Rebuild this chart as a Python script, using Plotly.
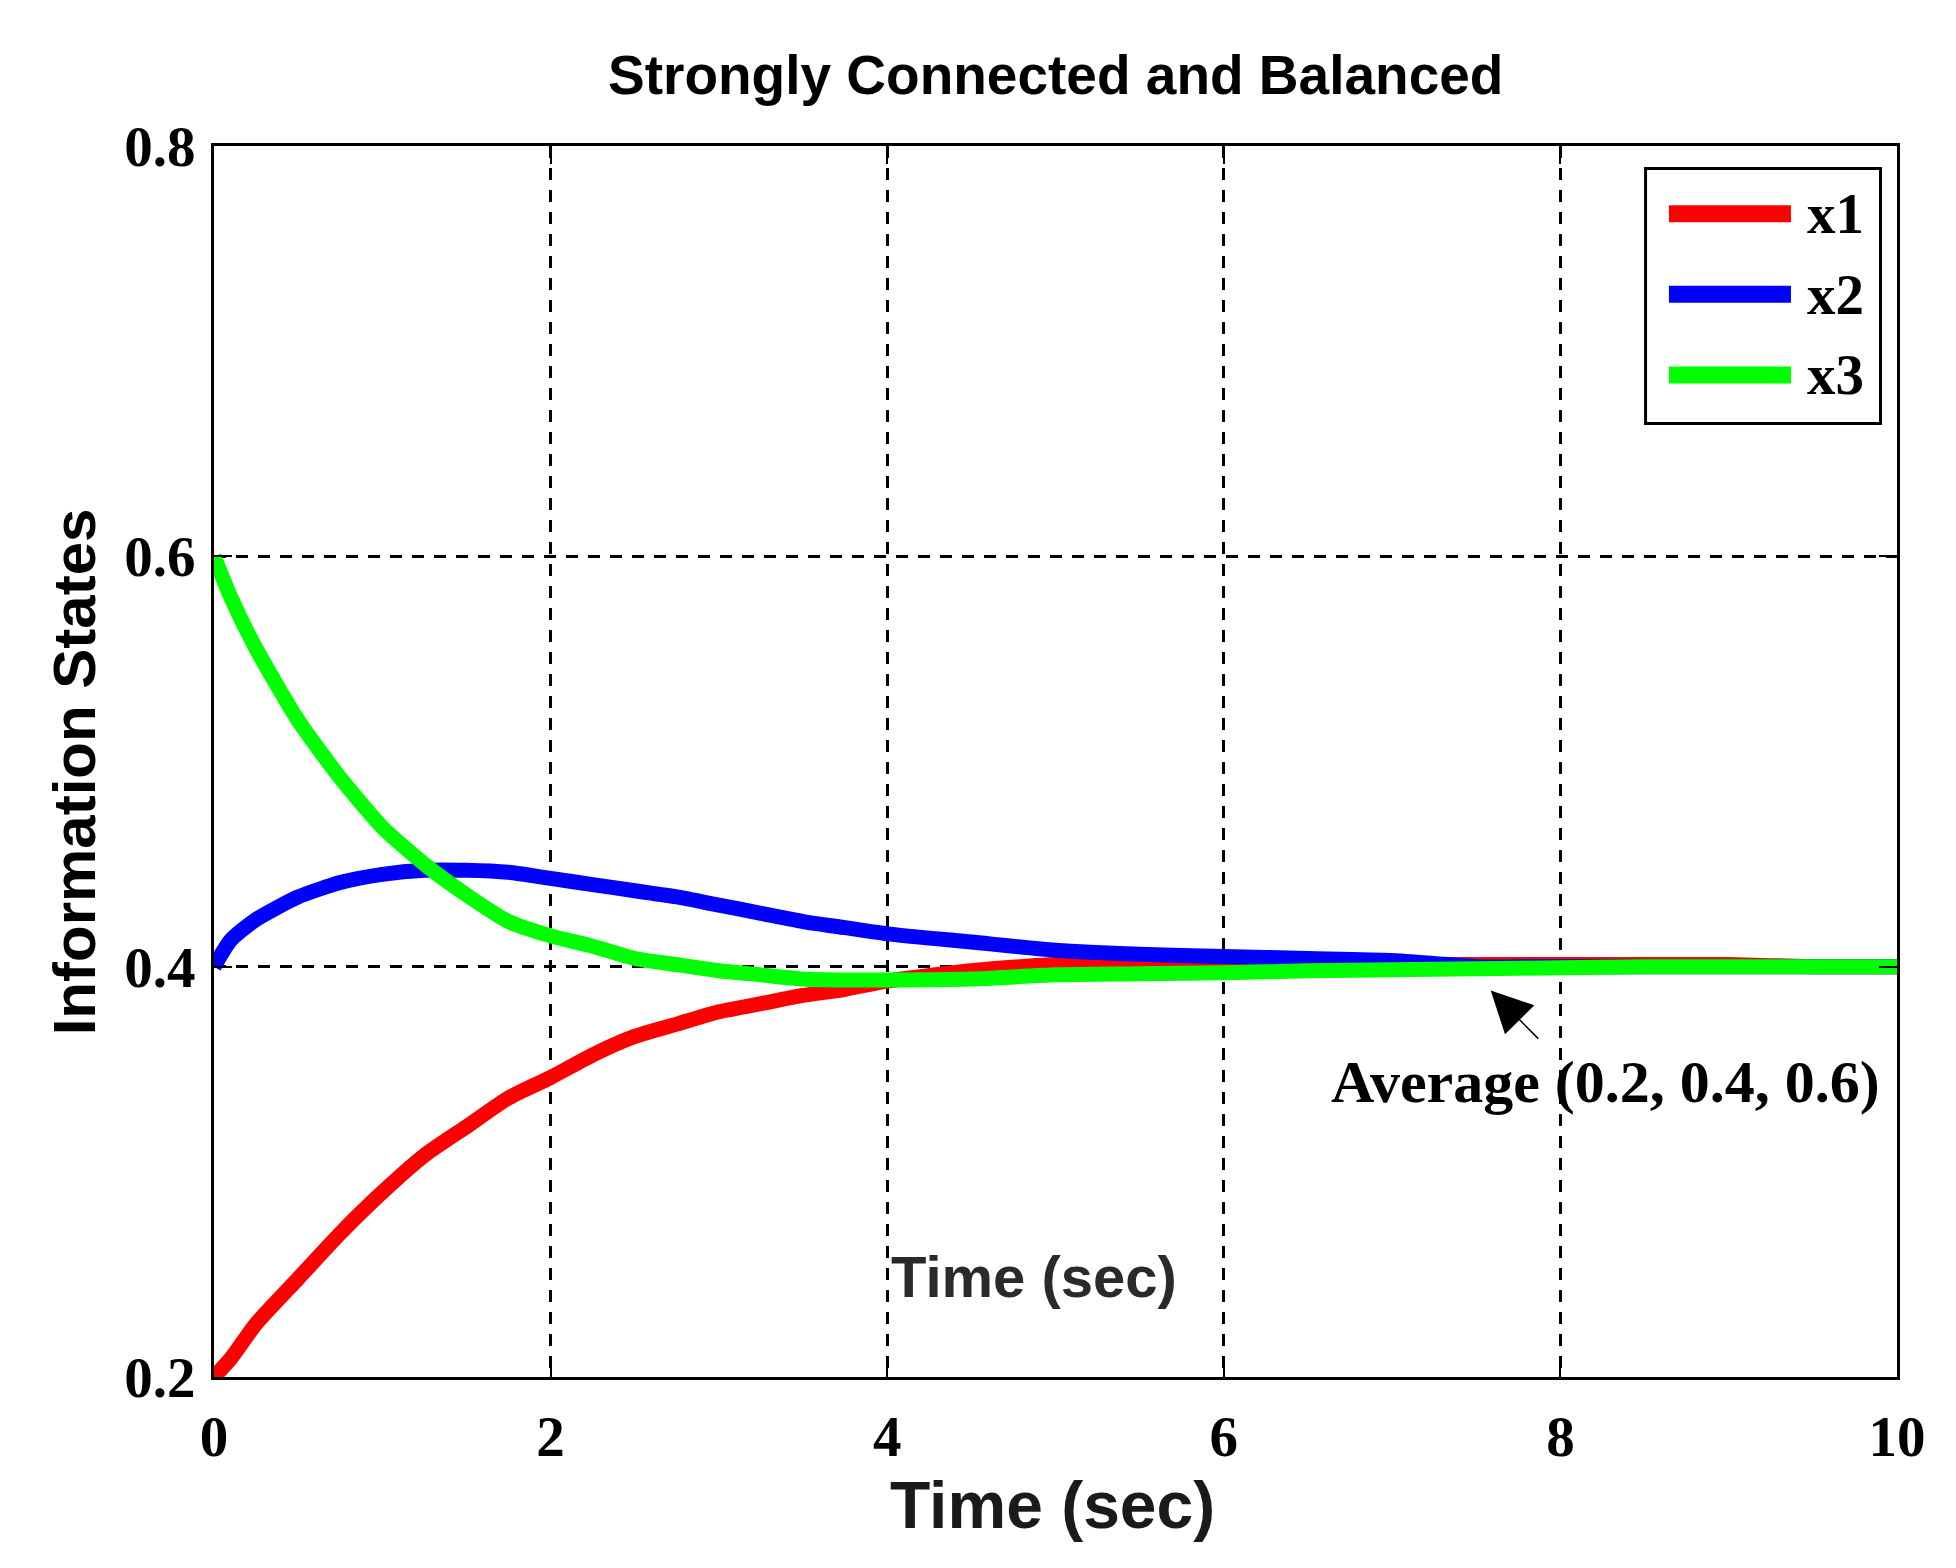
import plotly.graph_objects as go

# time samples (sec) and the three information states
t = [0, 0.1, 0.25, 0.5, 0.75, 1.0, 1.25, 1.5, 1.75, 2.0, 2.25, 2.5, 2.75, 3.0,
     3.25, 3.5, 3.75, 4.0, 4.5, 5.0, 5.5, 6.0, 6.5, 7.0, 7.5, 8.0, 8.5, 9.0, 9.5, 10]
x1 = [0.200, 0.209, 0.226, 0.248, 0.270, 0.290, 0.308, 0.322, 0.336, 0.346, 0.357,
      0.366, 0.372, 0.378, 0.382, 0.386, 0.389, 0.393, 0.398, 0.401, 0.402, 0.402,
      0.401, 0.401, 0.401, 0.401, 0.401, 0.401, 0.400, 0.400]
x2 = [0.400, 0.413, 0.423, 0.434, 0.441, 0.445, 0.447, 0.447, 0.446, 0.443, 0.440,
      0.437, 0.434, 0.430, 0.426, 0.422, 0.419, 0.416, 0.412, 0.408, 0.406, 0.405,
      0.404, 0.403, 0.400, 0.400, 0.400, 0.400, 0.400, 0.400]
x3 = [0.600, 0.580, 0.555, 0.520, 0.492, 0.468, 0.450, 0.435, 0.422, 0.415, 0.410,
      0.404, 0.401, 0.398, 0.396, 0.394, 0.3935, 0.3935, 0.394, 0.396, 0.3965, 0.397,
      0.398, 0.3985, 0.399, 0.3995, 0.400, 0.400, 0.400, 0.400]

names = ["x1", "x2", "x3"]
colors = ["#ff0000", "#0000ff", "#00ff00"]
xticks = [0, 2, 4, 6, 8, 10]
yticks = [0.2, 0.4, 0.6, 0.8]

serif = "Liberation Serif"
sans = "Liberation Sans"

fig = go.Figure()
for name, ys, c in zip(names, [x1, x2, x3], colors):
    fig.add_trace(go.Scatter(x=t, y=ys, mode="lines", name=name,
                             line=dict(color=c, width=15, shape="spline", smoothing=0.6),
                             showlegend=False))

axis_style = dict(
    showline=True, linecolor="black", linewidth=3, mirror="ticks",
    ticks="inside", ticklen=18, tickwidth=2, tickcolor="black",
    showgrid=True, gridcolor="black", gridwidth=2.5, griddash="12px,10px",
    zeroline=False,
    tickfont=dict(family=serif, size=57, color="black", weight="bold"),
)
fig.update_xaxes(range=[0, 10], tickvals=xticks, ticklabelstandoff=8, **axis_style)
fig.update_yaxes(range=[0.2, 0.8], tickvals=yticks, tickformat=".1f",
                 ticklabelstandoff=4, **axis_style)

# hand-made legend box (MATLAB style: long thick sample lines)
shapes = [dict(type="rect", xref="paper", yref="paper", x0=0.8506, x1=0.9902,
               y0=0.7746, y1=0.9817, line=dict(color="black", width=3),
               fillcolor="white", layer="above")]
annotations = []
leg_y = [0.945, 0.8795, 0.814]
for name, c, ly in zip(names, colors, leg_y):
    shapes.append(dict(type="line", xref="paper", yref="paper", x0=0.8645, x1=0.937,
                       y0=ly, y1=ly, line=dict(color=c, width=17), layer="above"))
    annotations.append(dict(text=name, xref="paper", yref="paper", x=0.9453, y=ly,
                            xanchor="left", yanchor="middle", showarrow=False,
                            font=dict(family=serif, size=57, color="black", weight="bold")))

annotations += [
    dict(text="Strongly Connected and Balanced", xref="paper", yref="paper",
         x=0.5, y=1.058, xanchor="center", yanchor="middle", showarrow=False,
         font=dict(family=sans, size=55, color="black", weight="bold")),
    dict(text="Time (sec)", xref="paper", yref="paper", x=0.498, y=-0.104,
         xanchor="center", yanchor="middle", showarrow=False,
         font=dict(family=sans, size=66, color="#1a1a1a", weight="bold")),
    dict(text="Information States", xref="paper", yref="paper", x=-0.0832, y=0.492,
         xanchor="center", yanchor="middle", showarrow=False, textangle=-90,
         font=dict(family=sans, size=60, color="black", weight="bold")),
    dict(text="Time (sec)", x=4.87, y=0.249, xanchor="center", yanchor="middle",
         showarrow=False, font=dict(family=sans, size=58, color="#2a2a2a", weight="bold")),
    dict(text="Average (0.2, 0.4, 0.6)", x=8.27, y=0.344, xanchor="center",
         yanchor="middle", showarrow=False,
         font=dict(family=serif, size=60, color="black", weight="bold")),
    dict(text="", x=7.586, y=0.3884, ax=7.877, ay=0.3642, axref="x", ayref="y",
         showarrow=True, arrowhead=2, arrowsize=5.5, arrowwidth=1.5, arrowcolor="black"),
]

# page body keeps an 8px margin, so the figure is 16px smaller than the window
fig.update_layout(
    width=1940, height=1552,
    margin=dict(l=206, r=51, t=138, b=183),
    plot_bgcolor="white", paper_bgcolor="white",
    shapes=shapes, annotations=annotations,
)
fig.write_html("out.html")
